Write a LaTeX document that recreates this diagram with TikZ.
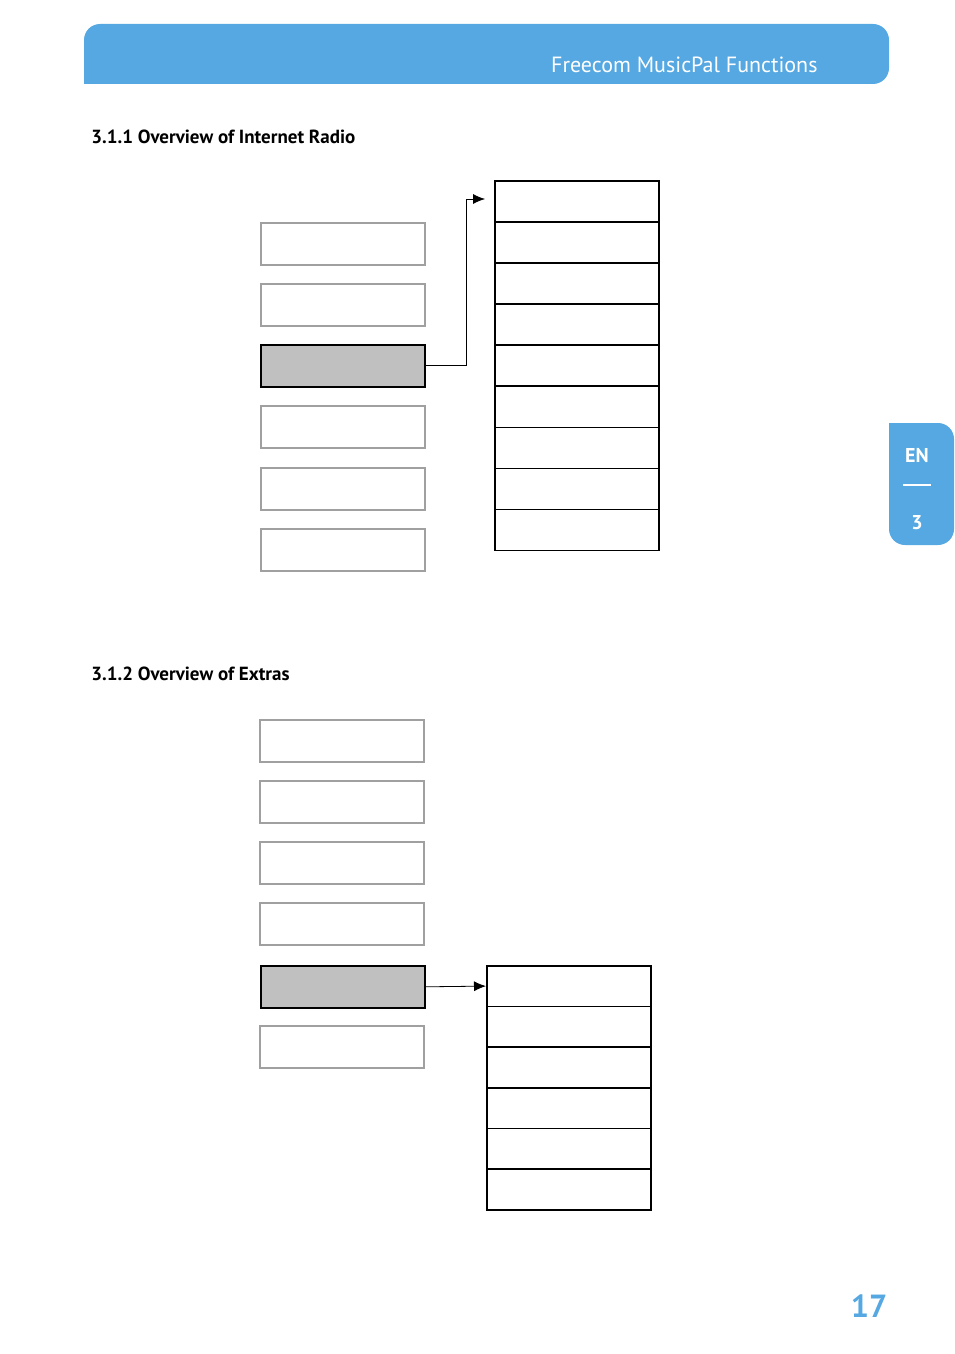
\documentclass[tikz,border=0pt]{standalone}
\usepackage{fontspec}
\setmainfont{PT Sans}
\usepackage{tikz}
\usetikzlibrary{positioning,arrows.meta}
\definecolor{HeadBlue}{RGB}{85,168,225}
\definecolor{BoxGray}{RGB}{192,192,192}
\definecolor{EdgeGray}{RGB}{160,160,160}
\begin{document}
\begin{tikzpicture}[x=0.5pt,y=-0.5pt,
       >={Latex[length=6pt,width=5pt]}, thick,
       menubox/.style={rectangle, draw=EdgeGray, minimum width=82pt, minimum height=21pt, anchor=north west, inner sep=0pt},
       activebox/.style={menubox, draw=black, fill=BoxGray},
       subbox/.style={rectangle, draw=black, minimum width=82pt, minimum height=20.5pt, anchor=north west, inner sep=0pt},
       heading/.style={anchor=west, font=\fontsize{9.5}{11}\selectfont\bfseries}]
	\useasboundingbox (0,0) rectangle (954,1354);
	%% Header and side tab
	\fill[HeadBlue, rounded corners=8pt] (84,84) -- (84,24) -- (889,24) -- (889,84) [sharp corners] -- cycle;
	\node[anchor=base east, text=white, font=\fontsize{11}{13}\selectfont] (head) at (825,73) {Freecom MusicPal Functions};
	\fill[HeadBlue, rounded corners=8pt] (889,423) -- (954,423) -- (954,545) -- (889,545) [sharp corners] -- cycle;
	\node[text=white, font=\fontsize{10}{12}\selectfont\bfseries] (lang) at (917,455) {EN};
	\draw[white, thick] (903,485) -- (931,485);
	\node[text=white, font=\fontsize{10}{12}\selectfont\bfseries] (chap) at (917,523) {3};
	\node[text=HeadBlue, font=\fontsize{16}{18}\selectfont\bfseries] (page) at (869,1306) {17};

	%% Internet Radio
	\node[heading] (h1) at (84,137) {3.1.1 Overview of Internet Radio};
	\foreach \i/\y in {1/222,2/283,4/405,5/467,6/528}
		\node[menubox] (ra\i) at (260,\y) {};
	\node[activebox] (ra3) at (260,344) {};
	\foreach \i in {0,...,8}
		\node[subbox] (rb\i) at (494,180+41.1*\i) {};
	\coordinate (rtop) at (485,199);
	\draw[->, thin] (ra3.east) -- ++(41,0) |- (rtop);

	%% Extras
	\node[heading] (h2) at (84,674) {3.1.2 Overview of Extras};
	\foreach \i/\y in {1/719,2/780,3/841,4/902,6/1025}
		\node[menubox] (ea\i) at (259,\y) {};
	\node[activebox] (ea5) at (260,965) {};
	\foreach \i in {0,...,5}
		\node[subbox, minimum height=20.3pt] (eb\i) at (486,965+40.7*\i) {};
	\draw[->, thin] (ea5.east) -- (eb0.west);
\end{tikzpicture}
\end{document}
